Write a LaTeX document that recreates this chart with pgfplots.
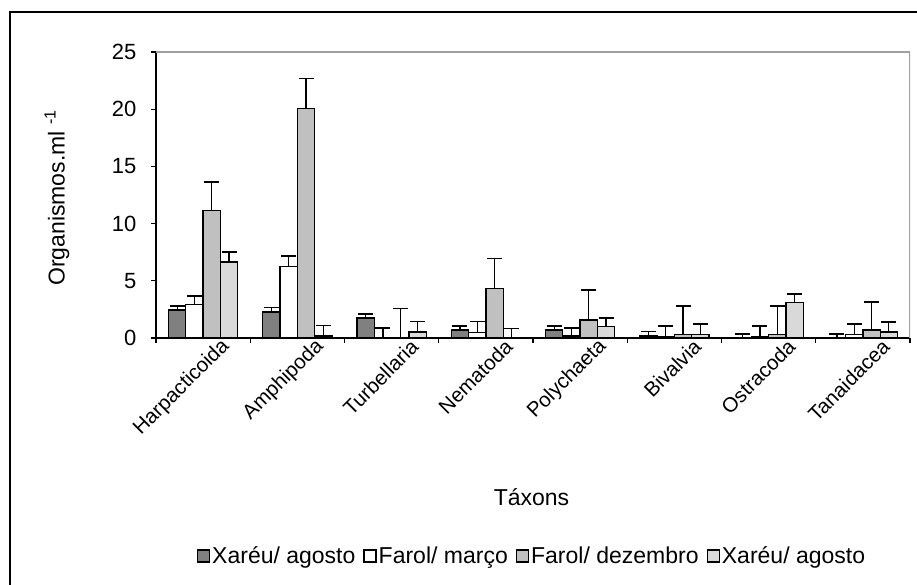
\documentclass[border=0pt]{standalone}
\usepackage{pgfplots}
\pgfplotsset{compat=1.18}
\usepackage{pgfplotstable}
\usepackage{fontspec}
\setmainfont{Liberation Sans}

\definecolor{cA}{RGB}{128,128,128}
\definecolor{cC}{RGB}{192,192,192}
\definecolor{cD}{RGB}{217,217,217}
\definecolor{frameg}{RGB}{160,160,160}

\pgfplotstableread{
x b1 e1 b2 e2 b3 e3 b4 e4
0 2.45 0.35 2.94 0.73 11.16 2.48 6.64 0.88
1 2.27 0.38 6.26 0.91 20.07 2.63 0.17 0.91
2 1.75 0.35 0.00 0.87 0.00 2.60 0.52 0.91
3 0.70 0.35 0.50 0.93 4.35 2.62 0.00 0.85
4 0.70 0.35 0.17 0.70 1.57 2.63 0.99 0.76
5 0.17 0.38 0.12 0.93 0.32 2.48 0.32 0.90
6 0.00 0.35 0.15 0.90 0.32 2.48 3.12 0.73
7 0.00 0.35 0.30 0.92 0.70 2.45 0.52 0.88
}\data

\begin{document}
\begin{tikzpicture}[x=1pt,y=1pt,font=\fontsize{23}{27}\selectfont]
\path[use as bounding box] (0,0) rectangle (917,585);
\draw[line width=1.5pt] (10,-5) -- (10,573) -- (922,573);
\begin{axis}[
  at={(156pt,247pt)}, anchor=south west,
  scale only axis, width=754pt, height=286pt,
  xmin=-0.5, xmax=7.5, ymin=0, ymax=25,
  ybar=0pt, bar width=17.3pt,
  axis x line*=bottom, axis y line*=left,
  axis line style={-, line width=1.2pt, black},
  tick align=outside, major tick length=5pt,
  tick style={black, line width=1.2pt},
  xtick={-0.5,0.5,...,7.5}, xticklabels={},
  extra x ticks={0,1,2,3,4,5,6,7},
  extra x tick labels={Harpacticoida,Amphipoda,Turbellaria,Nematoda,Polychaeta,Bivalvia,Ostracoda,Tanaidacea},
  ytick={0,5,10,15,20,25},
  /pgf/number format/assume math mode=true,
  tick label style={font=\fontsize{22}{26}\selectfont},
  extra x tick style={major tick length=0pt, tick label style={rotate=45, anchor=east, yshift=-20pt, xshift=16pt, font=\fontsize{20.5}{24}\selectfont}},
  yticklabel style={xshift=-11pt},
  xlabel={Táxons},
  xlabel style={at={(axis description cs:0.498,-0.556)}, anchor=center},
  ylabel={Organismos.ml \textsuperscript{-1}},
  ylabel style={at={(axis description cs:-0.1313,0.49)}, anchor=center},
  legend columns=4,
  legend style={draw=none, fill=none, at={(axis description cs:0.4987,-0.762)}, anchor=center,
    font=\fontsize{23}{27}\selectfont, inner sep=0pt,
    /tikz/every even column/.append style={column sep=6pt},
    /tikz/every odd column/.append style={column sep=0pt}},
  legend image code/.code={\draw[#1, line width=1.3pt] (0pt,-6pt) rectangle (12pt,6pt);},
  error bars/y dir=plus, error bars/y explicit,
  error bars/error mark options={rotate=90, black, line width=1.3pt, mark size=7.5pt},
  error bars/error bar style={black, line width=1.3pt},
]
\addplot[fill=cA, draw=black, line width=1.3pt] table[x=x, y=b1, y error=e1] {\data};
\addlegendentry{Xaréu/ agosto}
\addplot[fill=white, draw=black, line width=1.3pt] table[x=x, y=b2, y error=e2] {\data};
\addlegendentry{Farol/ março}
\addplot[fill=cC, draw=black, line width=1.3pt] table[x=x, y=b3, y error=e3] {\data};
\addlegendentry{Farol/ dezembro}
\addplot[fill=cD, draw=black, line width=1.3pt] table[x=x, y=b4, y error=e4] {\data};
\addlegendentry{Xaréu/ agosto}
\draw[frameg, line width=2pt] (rel axis cs:0,1) -- (rel axis cs:1,1) -- (rel axis cs:1,0);
\end{axis}
\end{tikzpicture}
\end{document}
